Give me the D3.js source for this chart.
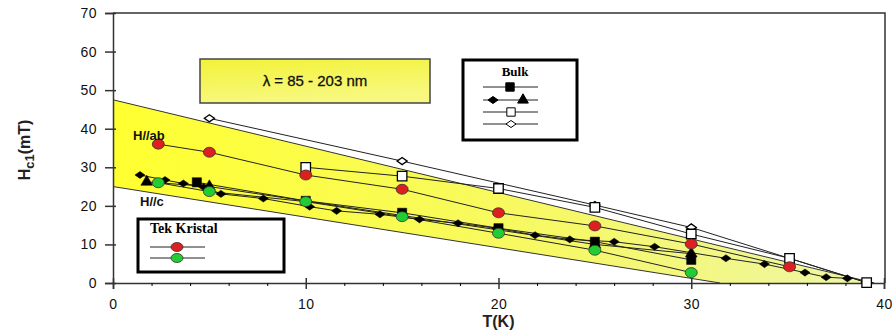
<html>
<head>
<script src="https://d3js.org/d3.v7.min.js"></script>
<style>
body { margin: 0; background: #fff; }
svg { display: block; }
</style>
</head>
<body>
<script>
var width = 896, height = 335;

// ---- data ----
var xTicks = [0, 10, 20, 30, 40];
var xMinor = [2, 4, 6, 8, 12, 14, 16, 18, 22, 24, 26, 28, 32, 34, 36, 38];
var yTicks = [0, 10, 20, 30, 40, 50, 60, 70];

// yellow band (T, Hc1)
var bandTop = [[0, 47.5], [39.5, 0]];
var bandBottom = [[0, 25], [31.5, 0]];

// single crystal
var redT = [2.35, 5, 10, 15, 20, 25, 30, 35.1];
var redH = [36.0, 33.9, 28.0, 24.3, 18.2, 14.8, 10.1, 4.2];
var greenT = [2.35, 5, 10, 15, 20, 25, 30];
var greenH = [26.0, 23.7, 21.1, 17.2, 12.9, 8.5, 2.7];

// bulk
var wSqT = [10, 15, 20, 25, 30, 35.1, 39.1];
var wSqH = [30.0, 27.7, 24.5, 19.6, 12.7, 6.4, 0.1];
var wDiaT = [5, 15, 25, 30, 39.1];
var wDiaH = [42.7, 31.6, 20.2, 14.4, 0.1];
var bDiaT = [1.4, 2.7, 3.65, 4.7, 5.6, 7.8, 10.2, 11.6, 13.85, 15.9, 17.9, 19.9, 21.9, 23.7, 26, 28.1, 31.8, 33.8, 35.9, 37, 38.1];
var bDiaH = [28.0, 26.7, 25.8, 24.9, 23.1, 21.9, 19.8, 18.7, 17.8, 16.5, 15.5, 14.2, 12.4, 11.3, 10.7, 9.4, 6.4, 4.9, 2.7, 1.5, 1.2];
var bSqT = [4.35, 10, 15, 20, 25, 30];
var bSqH = [26.1, 21.3, 18.2, 14.2, 10.7, 6.0];
var bTriT = [1.75, 5, 25, 30];
var bTriH = [26.2, 25.0, 10.0, 7.6];

var lambdaText = "λ = 85 - 203 nm";

// ---- scales ----
var x = d3.scaleLinear().domain([0, 40]).range([113, 884]);
var y = d3.scaleLinear().domain([0, 70]).range([283, 13]);

var svg = d3.select('body').append('svg')
  .attr('width', width).attr('height', height);

var defs = svg.append('defs');
var g1 = defs.append('linearGradient').attr('id', 'band').attr('x1', 0).attr('x2', 1).attr('y1', 0).attr('y2', 0);
g1.append('stop').attr('offset', '0%').attr('stop-color', '#ffff30');
g1.append('stop').attr('offset', '60%').attr('stop-color', '#f6f868');
g1.append('stop').attr('offset', '100%').attr('stop-color', '#eef6a8');
var g2 = defs.append('linearGradient').attr('id', 'lbox').attr('x1', 0).attr('x2', 0.3).attr('y1', 0).attr('y2', 1);
g2.append('stop').attr('offset', '0%').attr('stop-color', '#f2f238');
g2.append('stop').attr('offset', '100%').attr('stop-color', '#f8f880');

// band
var bandPts = bandTop.concat(bandBottom.slice().reverse());
svg.append('path')
  .attr('d', d3.line().x(function(d){ return x(d[0]); }).y(function(d){ return y(d[1]); })(bandPts) + 'Z')
  .attr('fill', 'url(#band)').attr('stroke', 'none');
[bandTop, bandBottom].forEach(function(b) {
  svg.append('path')
    .attr('d', d3.line().x(function(d){ return x(d[0]); }).y(function(d){ return y(d[1]); })(b))
    .attr('fill', 'none').attr('stroke', '#333').attr('stroke-width', 1);
});

// frame
svg.append('path')
  .attr('d', 'M' + x(0) + ',' + y(70) + 'H' + (x(40) + 1) + 'V' + y(0))
  .attr('fill', 'none').attr('stroke', '#333').attr('stroke-width', 1.5);

// axes
var yAxis = svg.append('g').attr('transform', 'translate(' + x(0) + ',0)')
  .call(d3.axisLeft(y).tickValues(yTicks).tickSize(8).tickPadding(8));
yAxis.selectAll('.tick line').attr('x1', -8).attr('x2', 3);
var xAxis = svg.append('g').attr('transform', 'translate(0,' + y(0) + ')')
  .call(d3.axisBottom(x).tickValues(xTicks).tickSize(6).tickPadding(10));
xAxis.selectAll('.tick line').attr('y1', -5).attr('y2', 6);
svg.append('g').attr('transform', 'translate(0,' + y(0) + ')')
  .call(d3.axisBottom(x).tickValues(xMinor).tickSize(3).tickFormat(''))
  .call(function(g){ g.select('.domain').remove(); });
[yAxis, xAxis].forEach(function(a) {
  a.select('.domain').attr('stroke', '#333').attr('stroke-width', 1.5);
  a.selectAll('text').attr('font-family', 'Liberation Sans, Arial, sans-serif')
    .attr('font-size', 14).attr('fill', '#111').attr('letter-spacing', 0.5);
  a.selectAll('line').attr('stroke', '#333').attr('stroke-width', 1.5);
});

// axis titles
svg.append('text').attr('x', x(20)).attr('y', 327).attr('text-anchor', 'middle')
  .attr('font-family', 'Liberation Sans, Arial, sans-serif').attr('font-size', 16).attr('font-weight', 'bold')
  .attr('fill', '#222').text('T(K)');
var yt = svg.append('text').attr('transform', 'translate(30,150) rotate(-90)').attr('text-anchor', 'middle')
  .attr('font-family', 'Liberation Sans, Arial, sans-serif').attr('font-size', 16).attr('font-weight', 'bold').attr('fill', '#222');
yt.append('tspan').text('H');
yt.append('tspan').attr('dy', 4).attr('font-size', 13).text('c1');
yt.append('tspan').attr('dy', -4).text('(mT)');

// wide diamond symbol (like the original plot's markers)
var wideDiamond = {
  draw: function(ctx, size) {
    var w = Math.sqrt(size) * 0.8, h = w * 0.7;
    ctx.moveTo(-w, 0); ctx.lineTo(0, -h); ctx.lineTo(w, 0); ctx.lineTo(0, h); ctx.closePath();
  }
};

// series
var lineGen = d3.line().x(function(d){ return x(d[0]); }).y(function(d){ return y(d[1]); });
function zip(a, b) { return a.map(function(v, i){ return [v, b[i]]; }); }

var series = [
  { pts: zip(bDiaT, bDiaH), type: 'diamond', fill: '#000', size: 40 },
  { pts: zip(bTriT, bTriH), type: 'triangle', fill: '#000', size: 60 },
  { pts: zip(bSqT, bSqH), type: 'square', fill: '#000', size: 85 },
  { pts: zip(wDiaT, wDiaH), type: 'diamond', fill: '#fff', size: 40 },
  { pts: zip(wSqT, wSqH), type: 'square', fill: '#fff', size: 90 },
  { pts: zip(greenT, greenH), type: 'circle', fill: '#22cc33', size: 0 },
  { pts: zip(redT, redH), type: 'circle', fill: '#dd1f1f', size: 0 }
];
var symMap = { diamond: wideDiamond, triangle: d3.symbolTriangle, square: d3.symbolSquare };

series.forEach(function(s) {
  svg.append('path').attr('d', lineGen(s.pts))
    .attr('fill', 'none').attr('stroke', '#222').attr('stroke-width', 1);
});
series.forEach(function(s) {
  var g = svg.append('g');
  if (s.type === 'circle') {
    g.selectAll('ellipse').data(s.pts).enter().append('ellipse')
      .attr('cx', function(d){ return x(d[0]); }).attr('cy', function(d){ return y(d[1]); })
      .attr('rx', 6).attr('ry', 5)
      .attr('fill', s.fill).attr('stroke', '#333').attr('stroke-width', 0.8);
  } else {
    g.selectAll('path').data(s.pts).enter().append('path')
      .attr('transform', function(d){ return 'translate(' + x(d[0]) + ',' + y(d[1]) + ')'; })
      .attr('d', d3.symbol().type(symMap[s.type]).size(s.size))
      .attr('fill', s.fill).attr('stroke', '#000').attr('stroke-width', s.fill === '#fff' ? 1.3 : 0.5);
  }
});

// labels in plot
svg.append('text').attr('x', 133).attr('y', 140)
  .attr('font-family', 'Liberation Sans, Arial, sans-serif').attr('font-size', 13).attr('font-weight', 'bold')
  .attr('fill', '#111').text('H//ab');
svg.append('text').attr('x', 140).attr('y', 206)
  .attr('font-family', 'Liberation Sans, Arial, sans-serif').attr('font-size', 13).attr('font-weight', 'bold')
  .attr('fill', '#111').text('H//c');

// lambda box
svg.append('rect').attr('x', 200).attr('y', 59).attr('width', 230).attr('height', 44)
  .attr('fill', 'url(#lbox)').attr('stroke', '#444').attr('stroke-width', 1.5);
svg.append('text').attr('x', 315).attr('y', 86).attr('text-anchor', 'middle')
  .attr('font-family', 'Liberation Sans, Arial, sans-serif').attr('font-size', 15)
  .attr('fill', '#111').attr('stroke', '#111').attr('stroke-width', 0.3).text(lambdaText);

// Bulk legend
var bl = svg.append('g');
bl.append('rect').attr('x', 463).attr('y', 60).attr('width', 114).attr('height', 80)
  .attr('fill', '#fff').attr('stroke', '#000').attr('stroke-width', 3);
bl.append('text').attr('x', 515).attr('y', 76).attr('text-anchor', 'middle')
  .attr('font-family', 'Liberation Serif, Times New Roman, serif').attr('font-size', 13).attr('font-weight', 'bold')
  .text('Bulk');
var bulkRows = [
  { y: 87, marks: [['square', '#000', 510, 70]] },
  { y: 100, marks: [['diamond', '#000', 493, 40], ['triangle', '#000', 523, 50]] },
  { y: 112, marks: [['square', '#fff', 511, 70]] },
  { y: 124, marks: [['diamond', '#fff', 511, 40]] }
];
bulkRows.forEach(function(r) {
  bl.append('line').attr('x1', 483).attr('x2', 538).attr('y1', r.y).attr('y2', r.y)
    .attr('stroke', '#222').attr('stroke-width', 1);
  r.marks.forEach(function(m) {
    bl.append('path').attr('transform', 'translate(' + m[2] + ',' + r.y + ')')
      .attr('d', d3.symbol().type(symMap[m[0]]).size(m[3]))
      .attr('fill', m[1]).attr('stroke', '#000').attr('stroke-width', 1);
  });
});

// Tek Kristal legend
var tl = svg.append('g');
tl.append('rect').attr('x', 138).attr('y', 219).attr('width', 146).attr('height', 53)
  .attr('fill', '#fff').attr('stroke', '#000').attr('stroke-width', 3);
tl.append('text').attr('x', 150).attr('y', 233)
  .attr('font-family', 'Liberation Serif, Times New Roman, serif').attr('font-size', 14).attr('font-weight', 'bold')
  .text('Tek Kristal');
[[247, '#dd1f1f'], [258, '#22cc33']].forEach(function(r) {
  tl.append('line').attr('x1', 150).attr('x2', 205).attr('y1', r[0]).attr('y2', r[0])
    .attr('stroke', '#222').attr('stroke-width', 1);
  tl.append('ellipse').attr('cx', 177).attr('cy', r[0]).attr('rx', 6).attr('ry', 4.5)
    .attr('fill', r[1]).attr('stroke', '#333').attr('stroke-width', 0.8);
});
</script>
</body>
</html>
